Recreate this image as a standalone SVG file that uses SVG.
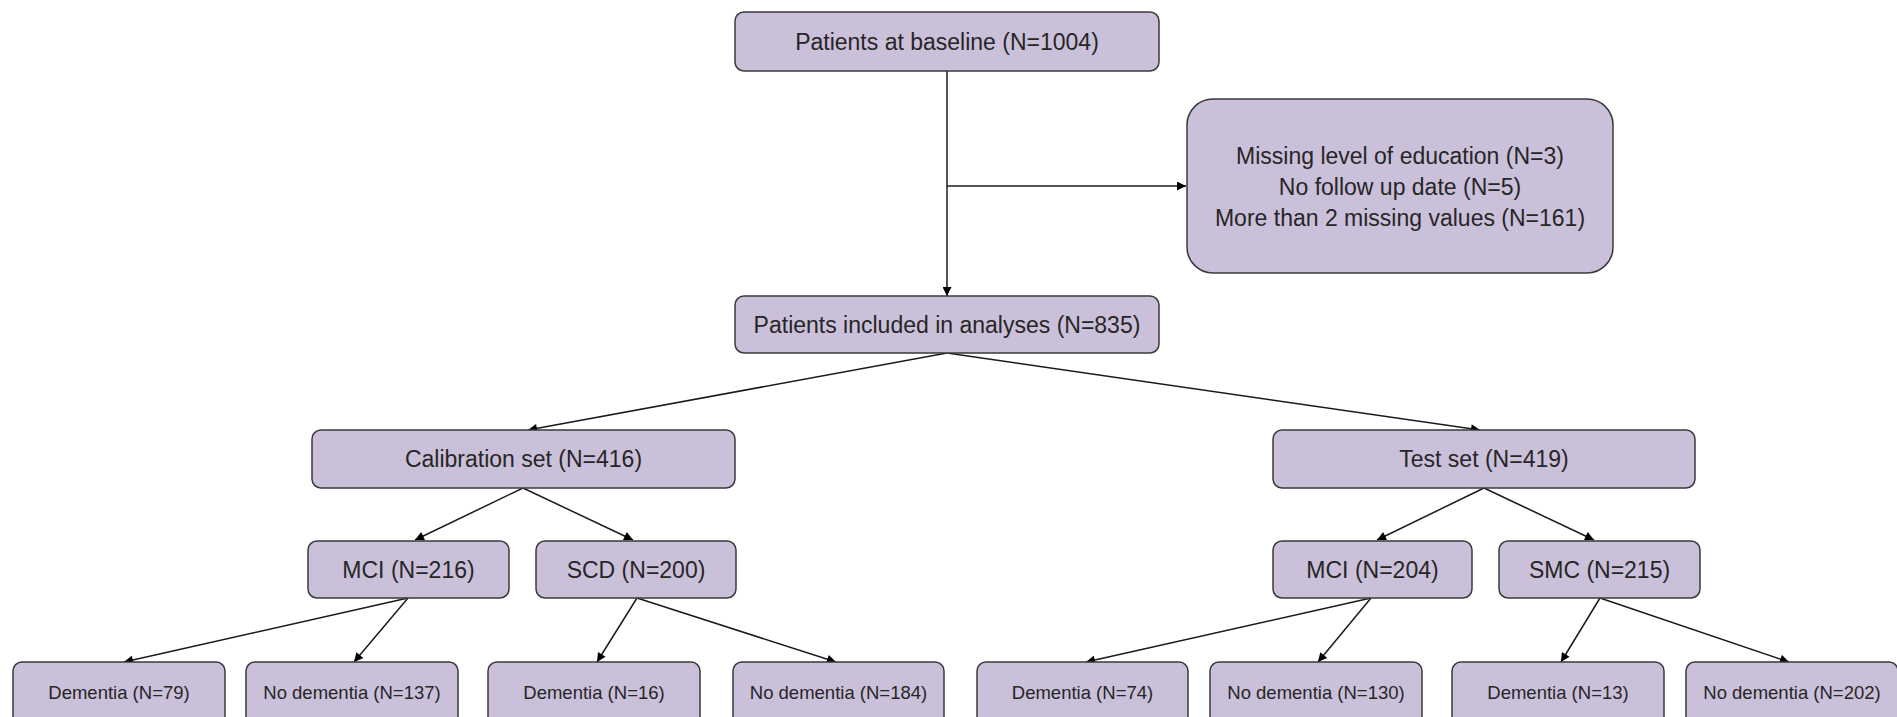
<svg xmlns="http://www.w3.org/2000/svg" width="1897" height="717" viewBox="0 0 1897 717">
<style>
.box{fill:#CBC0DA;stroke:#3a3a3a;stroke-width:1.5}
.t{font-family:"Liberation Sans",Arial,sans-serif;fill:#262626;text-anchor:middle;dominant-baseline:central}
.l{font-size:23px}
.s{font-size:18.5px}
.c{stroke:#1a1a1a;stroke-width:1.5;fill:none;marker-end:url(#ah)}
</style>
<defs>
<marker id="ah" viewBox="0 0 10 10" refX="10" refY="5" markerWidth="10" markerHeight="9" markerUnits="userSpaceOnUse" orient="auto">
<path d="M0,0 L10,5 L0,10 z" fill="#000"/>
</marker>
</defs>
<rect width="1897" height="717" fill="#fff"/>
<g id="connectors">
<line class="c" x1="947" y1="71" x2="947" y2="296"/>
<line class="c" x1="947" y1="186" x2="1186" y2="186"/>
<line class="c" x1="947" y1="353" x2="528" y2="430"/>
<line class="c" x1="947" y1="353" x2="1480" y2="430"/>
<line class="c" x1="523" y1="488" x2="415" y2="540"/>
<line class="c" x1="523" y1="488" x2="633" y2="540"/>
<line class="c" x1="1484" y1="488" x2="1377" y2="540"/>
<line class="c" x1="1484" y1="488" x2="1594" y2="540"/>
<line class="c" x1="408" y1="598" x2="124" y2="662"/>
<line class="c" x1="408" y1="598" x2="354" y2="662"/>
<line class="c" x1="637" y1="598" x2="597" y2="662"/>
<line class="c" x1="637" y1="598" x2="836" y2="662"/>
<line class="c" x1="1371" y1="598" x2="1086" y2="662"/>
<line class="c" x1="1371" y1="598" x2="1318" y2="662"/>
<line class="c" x1="1600" y1="598" x2="1561" y2="662"/>
<line class="c" x1="1600" y1="598" x2="1789" y2="662"/>
</g>
<g id="baseline">
<rect class="box" x="735" y="12" width="424" height="59" rx="9"/>
<text class="t l" x="947" y="41.5">Patients at baseline (N=1004)</text>
</g>
<g id="excluded">
<rect class="box" x="1187" y="99" width="426" height="174" rx="26"/>
<text class="t l" x="1400" y="156">Missing level of education (N=3)</text>
<text class="t l" x="1400" y="187">No follow up date (N=5)</text>
<text class="t l" x="1400" y="218">More than 2 missing values (N=161)</text>
</g>
<g id="included">
<rect class="box" x="735" y="296" width="424" height="57" rx="9"/>
<text class="t l" x="947" y="324.5">Patients included in analyses (N=835)</text>
</g>
<g id="calibration">
<rect class="box" x="312" y="430" width="423" height="58" rx="9"/>
<text class="t l" x="523.5" y="459">Calibration set (N=416)</text>
</g>
<g id="test">
<rect class="box" x="1273" y="430" width="422" height="58" rx="9"/>
<text class="t l" x="1484" y="459">Test set (N=419)</text>
</g>
<g id="mci-cal">
<rect class="box" x="308" y="541" width="201" height="57" rx="9"/>
<text class="t l" x="408.5" y="569.5">MCI (N=216)</text>
</g>
<g id="scd-cal">
<rect class="box" x="536" y="541" width="200" height="57" rx="9"/>
<text class="t l" x="636" y="569.5">SCD (N=200)</text>
</g>
<g id="mci-test">
<rect class="box" x="1273" y="541" width="199" height="57" rx="9"/>
<text class="t l" x="1372.5" y="569.5">MCI (N=204)</text>
</g>
<g id="smc-test">
<rect class="box" x="1499" y="541" width="201" height="57" rx="9"/>
<text class="t l" x="1599.5" y="569.5">SMC (N=215)</text>
</g>
<g id="dem-79">
<rect class="box" x="13" y="662" width="212" height="70" rx="9"/>
<text class="t s" x="119" y="692">Dementia (N=79)</text>
</g>
<g id="nodem-137">
<rect class="box" x="246" y="662" width="212" height="70" rx="9"/>
<text class="t s" x="352" y="692">No dementia (N=137)</text>
</g>
<g id="dem-16">
<rect class="box" x="488" y="662" width="212" height="70" rx="9"/>
<text class="t s" x="594" y="692">Dementia (N=16)</text>
</g>
<g id="nodem-184">
<rect class="box" x="733" y="662" width="211" height="70" rx="9"/>
<text class="t s" x="838.5" y="692">No dementia (N=184)</text>
</g>
<g id="dem-74">
<rect class="box" x="977" y="662" width="211" height="70" rx="9"/>
<text class="t s" x="1082.5" y="692">Dementia (N=74)</text>
</g>
<g id="nodem-130">
<rect class="box" x="1210" y="662" width="212" height="70" rx="9"/>
<text class="t s" x="1316" y="692">No dementia (N=130)</text>
</g>
<g id="dem-13">
<rect class="box" x="1452" y="662" width="212" height="70" rx="9"/>
<text class="t s" x="1558" y="692">Dementia (N=13)</text>
</g>
<g id="nodem-202">
<rect class="box" x="1686" y="662" width="212" height="70" rx="9"/>
<text class="t s" x="1792" y="692">No dementia (N=202)</text>
</g>
</svg>
